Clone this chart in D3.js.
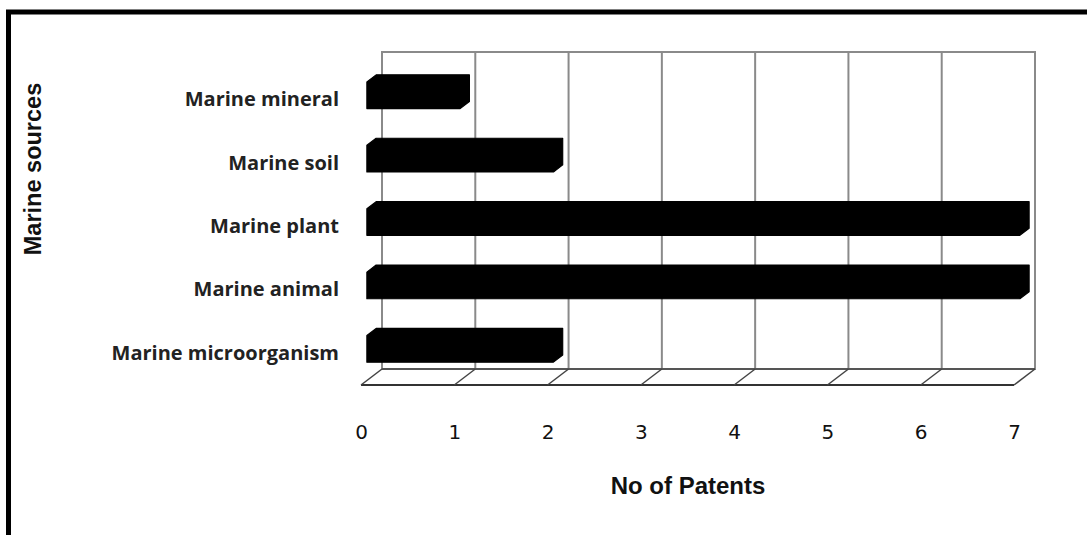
<!DOCTYPE html>
<html>
<head>
<meta charset="utf-8">
<script src="https://cdn.jsdelivr.net/npm/d3@7"></script>
<style>
  html, body { margin: 0; padding: 0; background: #fff; }
  svg { display: block; }
</style>
</head>
<body>
<svg id="chart" width="1087" height="535"></svg>
<script>
// Patents by marine source (horizontal 3D-style bar chart)
const categories = ["Marine mineral", "Marine soil", "Marine plant", "Marine animal", "Marine microorganism"];
const patents = [1, 2, 7, 7, 2];
const xTicks = [0, 1, 2, 3, 4, 5, 6, 7];
const xTitle = "No of Patents";
const yTitle = "Marine sources";

const svg = d3.select("#chart");

// back wall of the plot box
const wall = { left: 382, right: 1035, top: 52, bottom: 369 };
// depth vector from back wall to front edge of the floor
const depth = { dx: -21, dy: 16 };
// bars occupy the middle slab of the depth
const barBackF = 0.28, barFrontF = 0.72;

const x = d3.scaleLinear().domain([0, 7]).range([wall.left, wall.right]);
const y = d3.scaleBand().domain(categories).range([wall.top, wall.bottom]);
const barThick = y.bandwidth() * 0.42;

// outer frame
svg.append("rect")
  .attr("x", 8.5).attr("y", 12).attr("width", 1100).attr("height", 600)
  .attr("fill", "none").attr("stroke", "#000").attr("stroke-width", 5);

const defs = svg.append("defs");
defs.append("filter").attr("id", "soft")
  .append("feGaussianBlur").attr("stdDeviation", 1.6);

const plot = svg.append("g");

// back wall and vertical gridlines
plot.append("rect")
  .attr("x", wall.left).attr("y", wall.top)
  .attr("width", wall.right - wall.left).attr("height", wall.bottom - wall.top)
  .attr("fill", "#fff").attr("stroke", "#8a8a8a").attr("stroke-width", 2);

plot.selectAll("line.grid").data(xTicks).join("line")
  .attr("class", "grid")
  .attr("x1", d => x(d)).attr("x2", d => x(d))
  .attr("y1", wall.top).attr("y2", wall.bottom)
  .attr("stroke", "#8a8a8a").attr("stroke-width", 2);

// floor: back edge, front edge and the depth lines at each tick
plot.append("line")
  .attr("x1", x(0)).attr("x2", x(7)).attr("y1", wall.bottom).attr("y2", wall.bottom)
  .attr("stroke", "#555").attr("stroke-width", 2);
plot.append("line")
  .attr("x1", x(0) + depth.dx).attr("x2", x(7) + depth.dx)
  .attr("y1", wall.bottom + depth.dy).attr("y2", wall.bottom + depth.dy)
  .attr("stroke", "#333").attr("stroke-width", 2);
plot.selectAll("line.depth").data(xTicks).join("line")
  .attr("class", "depth")
  .attr("x1", d => x(d)).attr("y1", wall.bottom)
  .attr("x2", d => x(d) + depth.dx).attr("y2", wall.bottom + depth.dy)
  .attr("stroke", "#444").attr("stroke-width", 1.5);

// soft shadow along the left side wall
plot.append("line")
  .attr("x1", wall.left - 9).attr("x2", wall.left - 9)
  .attr("y1", wall.top + 12).attr("y2", wall.bottom + 8)
  .attr("stroke", "#555").attr("stroke-width", 3)
  .attr("filter", "url(#soft)");

// bars: silhouette of a box with front and back faces
function barPath(cat, v) {
  const cy = y(cat) + y.bandwidth() / 2;
  const fx0 = x(0) + depth.dx * barFrontF, fx1 = x(v) + depth.dx * barFrontF;
  const bx0 = x(0) + depth.dx * barBackF,  bx1 = x(v) + depth.dx * barBackF;
  const fy0 = cy + depth.dy * barFrontF - barThick / 2, fy1 = fy0 + barThick;
  const by0 = cy + depth.dy * barBackF - barThick / 2,  by1 = by0 + barThick;
  const p = d3.path();
  p.moveTo(fx0, fy1);
  p.lineTo(fx1, fy1);
  p.lineTo(bx1, by1);
  p.lineTo(bx1, by0);
  p.lineTo(bx0, by0);
  p.lineTo(fx0, fy0);
  p.closePath();
  return p.toString();
}

plot.selectAll("path.bar").data(categories).join("path")
  .attr("class", "bar")
  .attr("d", (c, i) => barPath(c, patents[i]))
  .attr("fill", "#000")
  .attr("stroke", "#000").attr("stroke-width", 1.2).attr("stroke-linejoin", "round");

// x axis labels, placed along the front edge of the floor
const xFront = x.copy().range([wall.left + depth.dx, wall.right + depth.dx]);
const xAxis = svg.append("g")
  .attr("transform", `translate(0,${wall.bottom + depth.dy + 40})`)
  .call(d3.axisBottom(xFront).tickValues(xTicks).tickSize(0).tickPadding(0).tickFormat(d3.format("d")));
xAxis.select(".domain").remove();
xAxis.selectAll("text")
  .attr("font-family", "'DejaVu Sans', sans-serif")
  .attr("font-size", 20)
  .attr("fill", "#111");

// category labels, aligned with the front of each row
const yFront = y.copy().range([wall.top + depth.dy, wall.bottom + depth.dy]);
const yAxis = svg.append("g")
  .attr("transform", `translate(${wall.left + depth.dx - 22},0)`)
  .call(d3.axisLeft(yFront).tickSize(0).tickPadding(0));
yAxis.select(".domain").remove();
yAxis.selectAll("text")
  .attr("font-family", "'Open Sans', sans-serif")
  .attr("font-weight", "bold")
  .attr("font-size", 20)
  .attr("fill", "#222");

// axis titles
svg.append("text")
  .attr("x", 688).attr("y", 494)
  .attr("text-anchor", "middle")
  .attr("font-family", "'Liberation Sans Narrow', 'Liberation Sans', sans-serif")
  .attr("font-weight", "bold")
  .attr("font-size", 24)
  .attr("fill", "#111")
  .text(xTitle);

svg.append("text")
  .attr("transform", "translate(41,169) rotate(-90)")
  .attr("text-anchor", "middle")
  .attr("font-family", "'Liberation Sans Narrow', 'Liberation Sans', sans-serif")
  .attr("font-weight", "bold")
  .attr("font-size", 23.5)
  .attr("fill", "#111")
  .text(yTitle);
</script>
</body>
</html>
